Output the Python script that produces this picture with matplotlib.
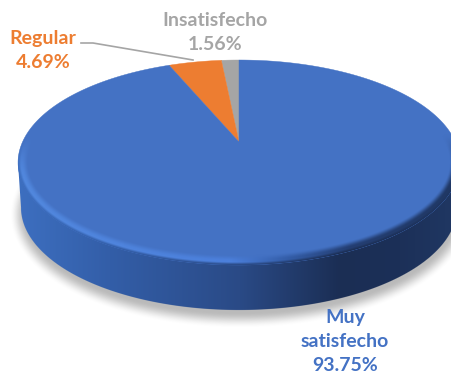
import numpy as np
import matplotlib
matplotlib.use('Agg')
import matplotlib.pyplot as plt
from matplotlib.patches import PathPatch
from matplotlib.path import Path

labels = ['Muy\nsatisfecho', 'Regular', 'Insatisfecho']
percents = [93.75, 4.69, 1.56]
colors = ['#4472C4', '#ED7D31', '#A5A5A5']

W, H = 451, 376
CX, APEX_Y = 239, 142
RADIUS = 216.5
TILT = 0.2
DEPTH = 45


def project(theta):
    # theta is clockwise from 12 o'clock, disc seen in perspective
    u, v = np.sin(theta), np.cos(theta)
    w = 1 + TILT * v
    return CX + RADIUS * u / w, (APEX_Y - 70 * v) / w


def smooth(e0, e1, x):
    t = np.clip((x - e0) / (e1 - e0), 0, 1)
    return t * t * (3 - 2 * t)


def signed_dist(xx, yy, cx, cy, a, b):
    # approximate pixel distance inside an ellipse edge, positive inside
    f = ((xx - cx) / a) ** 2 + ((yy - cy) / b) ** 2
    g = np.hypot(2 * (xx - cx) / a ** 2, 2 * (yy - cy) / b ** 2) + 1e-9
    return (1 - f) / g


fig = plt.figure(figsize=(W / 100, H / 100), dpi=100)
ax = fig.add_axes([0, 0, 1, 1])
extent = (0, W, H, 0)
xx, yy = np.meshgrid(np.arange(W) + 0.5, np.arange(H) + 0.5)
TOP_CY, TOP_A, TOP_B = 162.5, 221, 102.5
BOT_CY, BOT_A = TOP_CY + DEPTH, 218

# soft shadow under the disc
d = signed_dist(xx, yy, CX + 1, BOT_CY + 7, BOT_A + 4, TOP_B + 3)
shadow = np.zeros((H, W, 4))
shadow[..., :3] = 0.55
shadow[..., 3] = 0.6 * smooth(-8, 8, d) * smooth(TOP_CY, TOP_CY + 30, yy)
ax.imshow(shadow, extent=extent, zorder=1, aspect='auto', interpolation='bilinear')

# side wall: horizontal gradient, lower ellipse joined up to the top face
side_x = [18, 110, 240, 340, 400, 460]
side_rgb = np.array([[0x3D, 0x6F, 0xC0], [0x33, 0x5E, 0xA8], [0x2A, 0x4A, 0x86],
                     [0x1B, 0x2E, 0x54], [0x1C, 0x30, 0x58], [0x20, 0x38, 0x64]]) / 255
wall = np.zeros((H, W, 4))
for i in range(3):
    wall[..., i] = np.interp(xx, side_x, side_rgb[:, i])
d_bot = signed_dist(xx, yy, CX, BOT_CY, BOT_A, TOP_B)
left_edge = CX - TOP_A + (yy - TOP_CY) * (TOP_A - BOT_A) / DEPTH
between = np.clip(xx - left_edge + 0.5, 0, 1) * ((yy > TOP_CY) & (yy < BOT_CY))
wall[..., 3] = np.where(yy < BOT_CY, between, smooth(-0.7, 0.7, d_bot))
ax.imshow(wall, extent=extent, zorder=2, aspect='auto', interpolation='bilinear')

# top face slices, running counter-clockwise from the top in reverse data order
edges = np.cumsum([0] + percents[::-1]) / 100 * 2 * np.pi
for start, stop, color in zip(edges[:-1], edges[1:], colors[::-1]):
    px, py = project(-np.linspace(start, stop, 400))
    verts = [(CX, APEX_Y)] + list(zip(px, py)) + [(CX, APEX_Y)]
    ax.add_patch(PathPatch(Path(verts), facecolor=color, edgecolor=color, lw=0.3, zorder=3))

# bevel along the lower rim: highlight inside, blending into the wall colour at the edge
d_top = signed_dist(xx, yy, CX, TOP_CY, TOP_A, TOP_B)
bevel_x = [18, 230, 290, 350, 460]
bevel_rgb = np.array([[0x52, 0x88, 0xDE], [0x4C, 0x80, 0xDC], [0x33, 0x5C, 0xA6],
                      [0x24, 0x3E, 0x72], [0x20, 0x38, 0x64]]) / 255
bevel = np.zeros((H, W, 4))
for i in range(3):
    rim = np.interp(xx, bevel_x, bevel_rgb[:, i])
    bevel[..., i] = rim + (wall[..., i] - rim) * smooth(3.5, 0, d_top)
low = smooth(TOP_CY - 30, TOP_CY + 15, yy)
bevel[..., 3] = smooth(11, 4, d_top) * low * (d_top > -0.5) * smooth(-0.5, 0.5, d_top)
ax.imshow(bevel, extent=extent, zorder=4, aspect='auto', interpolation='bilinear')

# leader line for Regular
ax.plot([81, 93, 193], [43, 43, 60], color='#A5A5A5', lw=1.2, zorder=5)

font = dict(family='Lato', fontweight='bold', fontsize=14, ha='center', va='center', linespacing=1.5)
ax.text(345, 341.5, f'{labels[0]}\n{percents[0]:.2f}%', color=colors[0], zorder=6, **font)
ax.text(43, 50.5, f'{labels[1]}\n{percents[1]:.2f}%', color=colors[1], zorder=6, **font)
ax.text(215, 33, f'{labels[2]}\n{percents[2]:.2f}%', color=colors[2], zorder=6, **font)

ax.set_xlim(0, W)
ax.set_ylim(H, 0)
ax.axis('off')
fig.savefig('out.png', dpi=100)
